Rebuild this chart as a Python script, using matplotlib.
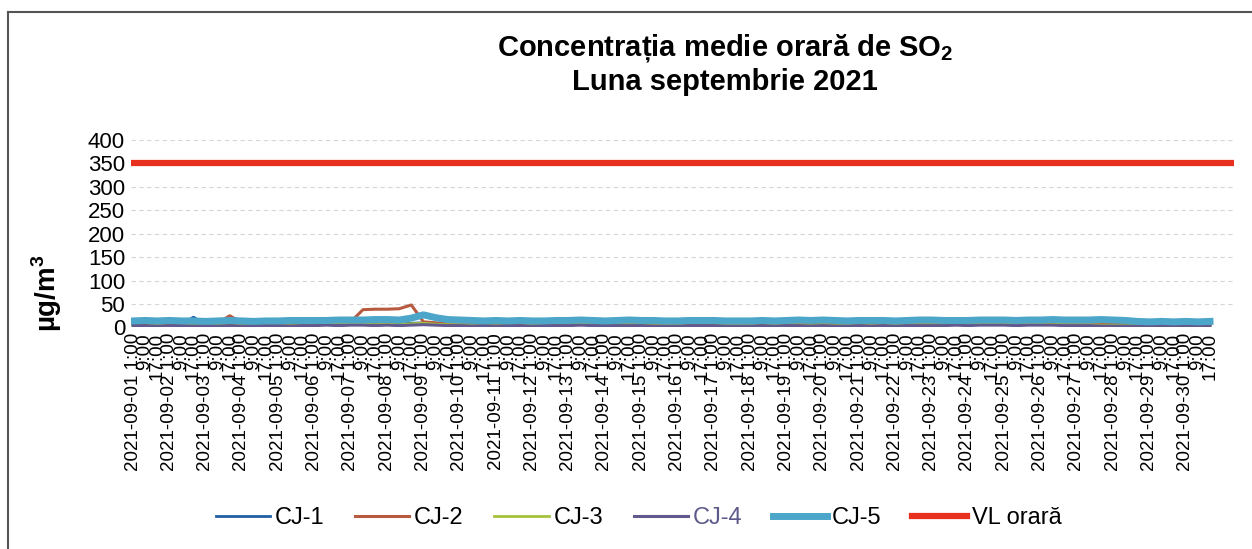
import matplotlib.pyplot as plt
from matplotlib.lines import Line2D

plt.rcParams['font.family'] = ['Liberation Sans', 'DejaVu Sans']
plt.rcParams['mathtext.fontset'] = 'custom'
plt.rcParams['mathtext.rm'] = 'Liberation Sans'
plt.rcParams['mathtext.bf'] = 'Liberation Sans:bold'

# valori citite la fiecare 8 ore (1:00, 9:00, 17:00), 1-30 septembrie 2021
days = list(range(1, 31))
hours = ['1:00', '9:00', '17:00']

cj1 = [7, 6, 7, 6, 7, 22, 6, 7, 6,
       7, 6, 6, 7, 7, 6, 7, 8, 7,
       8, 8, 7, 8, 7, 9, 10, 8, 7,
       7, 6, 7, 6, 7, 7, 6, 6, 7,
       7, 8, 7, 6, 7, 7, 7, 6, 6,
       6, 7, 7, 7, 6, 6, 6, 7, 6,
       7, 7, 6, 7, 6, 6, 7, 6, 7,
       6, 7, 7, 7, 7, 8, 7, 8, 8,
       8, 7, 8, 8, 8, 7, 7, 7, 6,
       6, 6, 6, 6, 7, 6, 6, 7, 6]

cj2 = [9, 10, 9, 10, 9, 10, 11, 10, 25,
       10, 9, 10, 10, 11, 10, 11, 10, 11,
       12, 38, 39, 39, 40, 48, 12, 10, 9,
       9, 10, 9, 9, 10, 10, 9, 9, 10,
       10, 11, 10, 9, 10, 10, 10, 9, 9,
       9, 10, 10, 10, 9, 9, 9, 10, 9,
       10, 10, 9, 10, 9, 9, 10, 9, 10,
       9, 10, 10, 10, 10, 11, 10, 11, 11,
       11, 10, 11, 11, 11, 10, 10, 9, 9,
       9, 8, 9, 8, 9, 8, 9, 9, 8]

cj3 = [5, 6, 5, 6, 5, 5, 6, 5, 6,
       5, 5, 6, 6, 5, 6, 6, 7, 6,
       7, 7, 6, 7, 6, 8, 9, 7, 6,
       6, 5, 6, 5, 6, 6, 5, 5, 6,
       6, 7, 6, 5, 6, 6, 6, 5, 5,
       5, 6, 6, 6, 5, 5, 5, 6, 5,
       6, 6, 5, 6, 5, 5, 6, 5, 6,
       5, 6, 6, 6, 6, 7, 6, 7, 7,
       7, 6, 7, 7, 7, 6, 6, 6, 5,
       5, 5, 5, 5, 6, 5, 5, 6, 5]

cj4 = [4, 4, 3, 4, 4, 3, 4, 3, 4,
       3, 4, 4, 4, 3, 4, 4, 5, 4,
       5, 5, 4, 5, 4, 5, 6, 5, 4,
       4, 3, 4, 3, 4, 4, 3, 4, 4,
       4, 5, 4, 4, 4, 4, 4, 3, 3,
       3, 4, 4, 4, 3, 3, 3, 4, 3,
       4, 4, 3, 4, 3, 3, 4, 3, 4,
       3, 4, 4, 4, 4, 5, 4, 5, 5,
       5, 4, 5, 5, 5, 4, 4, 4, 3,
       3, 3, 3, 3, 4, 3, 3, 4, 3]

cj5 = [14, 15, 14, 15, 14, 14, 13, 14, 15,
       14, 13, 14, 14, 15, 15, 15, 15, 16,
       16, 16, 17, 17, 16, 20, 27, 21, 17,
       16, 15, 14, 15, 14, 15, 14, 14, 15,
       15, 16, 15, 14, 15, 16, 15, 15, 14,
       14, 15, 15, 15, 14, 14, 14, 15, 14,
       15, 16, 15, 16, 15, 14, 15, 15, 15,
       14, 15, 16, 16, 15, 15, 15, 16, 16,
       16, 15, 16, 16, 17, 16, 16, 16, 17,
       16, 15, 13, 12, 13, 12, 13, 12, 13]

vl_orara = 350

# etichete axa x
labels = []
for d in days:
    for h in hours:
        if h == '1:00':
            labels.append('2021-09-%02d %s' % (d, h))
        else:
            labels.append(h)
x = list(range(len(labels)))

fig = plt.figure(figsize=(12.52, 5.49), dpi=100)
ax = fig.add_axes([0.1043, 0.4035, 0.8815, 0.3415])

ax.plot(x, cj1, color='#1f5fa6', lw=2, label='CJ-1')
ax.plot(x, cj2, color='#b85a40', lw=2.2, label='CJ-2')
ax.plot(x, cj3, color='#a6c23c', lw=2, label='CJ-3')
ax.plot(x, cj4, color='#62598f', lw=2.2, label='CJ-4')
ax.plot(x, cj5, color='#4ba6c9', lw=5, label='CJ-5')
ax.axhline(vl_orara, color='#e8301f', lw=4.5, label='VL orară')

ax.set_xlim(-0.2, 91)
ax.set_ylim(0, 400)
ax.set_yticks(range(0, 401, 50))
ax.set_xticks(x)
ax.set_xticklabels(labels, rotation=90, fontsize=13.5)
ax.tick_params(axis='y', labelsize=16, length=0, pad=4)
ax.tick_params(axis='x', length=0, pad=4)
ax.grid(axis='y', color='#d6d6d6', ls=(0, (4, 3)), lw=0.8)
for s in ax.spines.values():
    s.set_visible(False)

fig.text(0.579, 0.912, 'Concentrația medie orară de SO$_\\mathbf{2}$',
         ha='center', va='center', fontsize=21, fontweight='bold')
fig.text(0.579, 0.850, 'Luna septembrie 2021',
         ha='center', va='center', fontsize=21, fontweight='bold')
fig.text(0.0375, 0.466, 'µg/m$^\\mathbf{3}$', rotation=90,
         ha='center', va='center', fontsize=20, fontweight='bold')

leg = fig.legend(loc='center', bbox_to_anchor=(0.51, 0.056), ncol=6,
                 frameon=False, fontsize=17, handlelength=2.3,
                 handletextpad=0.2, columnspacing=1.3)
leg.get_texts()[3].set_color('#5d5a8a')

# chenarul graficului
fig.add_artist(Line2D([0.0064, 1.0], [0.978, 0.978], color='#555555', lw=1.5))
fig.add_artist(Line2D([0.0064, 0.0064], [0.0, 0.978], color='#555555', lw=1.5))

fig.savefig('out.png', dpi=100)
